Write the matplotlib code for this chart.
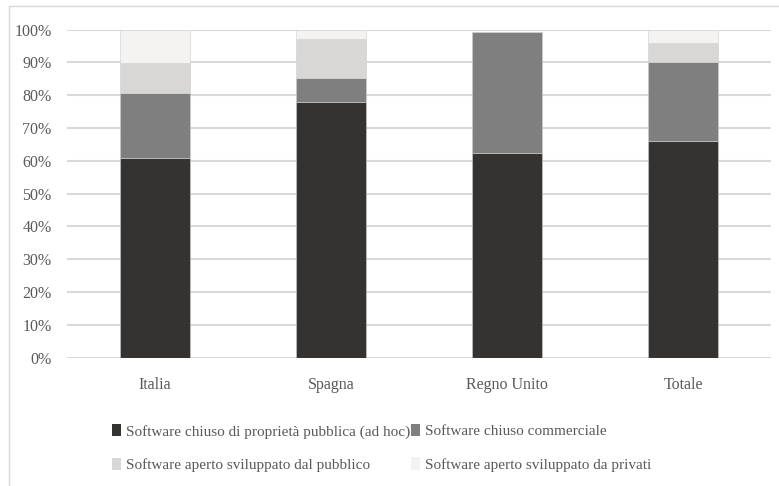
import numpy as np
import matplotlib
matplotlib.use('Agg')
import matplotlib.pyplot as plt
from matplotlib.patches import Rectangle

# dati (quote percentuali, barre impilate)
categories = ['Italia', 'Spagna', 'Regno Unito', 'Totale']
series_names = ['Software chiuso di proprietà pubblica (ad hoc)',
                'Software chiuso commerciale',
                'Software aperto sviluppato dal pubblico',
                'Software aperto sviluppato da privati']
chiuso_pubblico = [61.0, 78.0, 62.5, 66.1]
chiuso_commerciale = [19.7, 7.2, 36.7, 24.1]
aperto_pubblico = [9.1, 11.9, 0.0, 5.8]
aperto_privati = [10.2, 2.9, 0.0, 4.0]
colors = ['#343331', '#7f7f7f', '#d8d7d6', '#f4f3f1']
y_ticks = list(range(0, 101, 10))

plt.rcParams['font.family'] = ['Liberation Serif', 'DejaVu Serif']

fig = plt.figure(figsize=(7.79, 4.86), dpi=100)
ax = fig.add_axes([67 / 779, 1 - 357.7 / 486, 704 / 779, 328 / 486])

# cornice esterna del grafico
fig.patches.append(Rectangle((9 / 779, -0.1), 1.1, 1 - 6 / 486 + 0.1,
                             transform=fig.transFigure, fill=False,
                             edgecolor='#d9d9d9', linewidth=1.0))

x = np.arange(len(categories))
bottom = np.zeros(len(categories))
handles = []
for name, vals, col in zip(series_names,
                           [chiuso_pubblico, chiuso_commerciale, aperto_pubblico, aperto_privati],
                           colors):
    vals = np.array(vals)
    b = ax.bar(x, vals, 0.4, bottom=bottom, color=col, label=name,
               edgecolor='#cfcfcf', linewidth=0.4, zorder=3)
    handles.append(b)
    bottom += vals

ax.set_xlim(-0.5, len(categories) - 0.5)
ax.set_ylim(0, 100)
ax.set_yticks(y_ticks)
ax.set_yticklabels([f'{v}%' for v in y_ticks])
ax.set_xticks(x)
ax.set_xticklabels(categories)
ax.yaxis.grid(True, color='#d9d9d9', linewidth=1.5, zorder=0)
ax.tick_params(axis='both', length=0, labelsize=11.5, colors='#595959')
ax.tick_params(axis='x', pad=14)
ax.tick_params(axis='y', pad=11)
for s in ax.spines.values():
    s.set_visible(False)

# ordine per righe come nell'originale
order = [0, 2, 1, 3]
leg = fig.legend([handles[i] for i in order], [series_names[i] for i in order],
                 loc='upper left', bbox_to_anchor=(98 / 779, 1 - 410 / 486), ncol=2,
                 frameon=False, fontsize=11, handlelength=0.6, handleheight=0.9,
                 handletextpad=0.3, columnspacing=0.1, labelspacing=1.25,
                 labelcolor='#595959')
for h in leg.legend_handles:
    h.set_linewidth(0)

fig.savefig('out.png', dpi=100)
